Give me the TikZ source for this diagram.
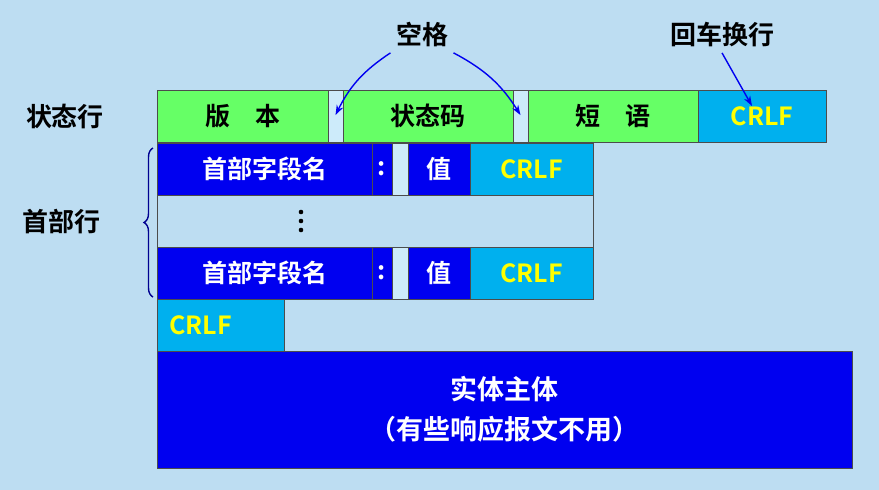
\documentclass[tikz,border=0pt]{standalone}
\usepackage{fontspec}
\setmainfont{Noto Sans CJK SC}[BoldFont={Noto Sans CJK SC Bold}]
\usetikzlibrary{decorations.pathreplacing,arrows.meta}
\definecolor{bg}{HTML}{BDDDF2}
\definecolor{gap}{HTML}{CDEBFA}
\definecolor{grn}{HTML}{66FF66}
\definecolor{blu}{HTML}{0000F0}
\definecolor{cya}{HTML}{00B0EE}
\definecolor{yel}{HTML}{FFFF00}
\begin{document}
\begin{tikzpicture}[x=1pt,y=-1pt,font=\bfseries,
 box/.style={draw=black!70,line width=0.8pt,inner sep=0pt},
 g/.style={box,fill=grn,font=\fontsize{25}{25}\bfseries},
 b/.style={box,fill=blu,text=white,font=\fontsize{25}{25}\bfseries},
 c/.style={box,fill=cya,text=yel,font=\fontsize{25}{25}\bfseries},
 l/.style={box,fill=gap},
 lab/.style={font=\fontsize{26}{26}\bfseries},
 arr/.style={blu,line width=1.4pt,-{Stealth[length=10pt,width=7pt]}}]
\fill[bg] (0,0) rectangle (879,490);
\useasboundingbox (0,0) rectangle (879,490);
% row 1
\path[g] (157,90) rectangle node(v){版\quad 本} (328,142);
\path[l] (328,90) rectangle node(s1){} (343,142);
\path[g] (343,90) rectangle node(sc){状态码} (513,142);
\path[l] (513,90) rectangle node(s2){} (528,142);
\path[g] (528,90) rectangle node(dy){短\quad 语} (698,142);
\path[c] (698,90) rectangle node(c1){CRLF} (826,142);
% rows 2 & 4
\foreach \y/\n in {143/a,247/b}{
 \path[b] (157,\y) rectangle node(h\n){首部字段名} (372,\y+52);
 \path[b] (372,\y) rectangle node(k\n){:} (392,\y+52);
 \path[l] (392,\y) rectangle node(g\n){} (408,\y+52);
 \path[b] (408,\y) rectangle node(z\n){值} (470,\y+52);
 \path[c] (470,\y) rectangle node(r\n){CRLF} (593,\y+52);
}
\path[box,fill=bg] (157,195) rectangle (593,247);
\node[inner sep=0pt] (dots) at (301,221) {};
\foreach \d in {-9,0,9} \fill (301,221+\d) circle (2.3pt);
\path[c] (157,299) rectangle node(c5){\hspace*{-40pt}CRLF} (284,351);
\path[b] (157,351) rectangle node[align=center,font=\fontsize{27}{40}\bfseries](body){实体主体\\（有些响应报文不用）} (852,468);
% labels
\node[lab](zt) at (65,117){状态行};
\node[lab](sb) at (62,222){首部行};
\node[lab](kg) at (422,35){空格};
\node[lab](hc) at (722,35){回车换行};
\draw[decorate,decoration={brace,amplitude=9pt},color=blu!60!black,line width=1.4pt] (153,297) -- (153,148);
\draw[arr] (kg.south west)+(-2,2) to[bend right=15] (s1.north);
\draw[arr] (kg.south east)+(2,2) to[bend left=15] (s2.north);
\draw[arr] (hc.south)+(0,2) -- ([xshift=-10pt]c1.north);
\end{tikzpicture}
\end{document}
